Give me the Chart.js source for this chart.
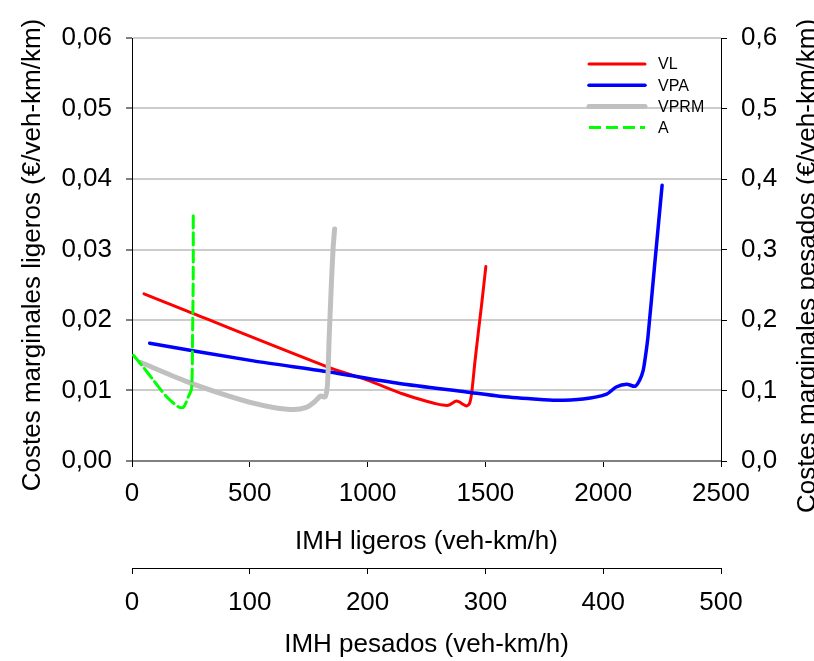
<!DOCTYPE html>
<html>
<head>
<meta charset="utf-8">
<script src="https://cdn.jsdelivr.net/npm/chart.js@4.4.1/dist/chart.umd.min.js"></script>
<style>
  html, body { margin: 0; padding: 0; background: #ffffff; }
  #c { display: block; }
</style>
</head>
<body>
<canvas id="c" width="814" height="661"></canvas>
<script>
// Light vehicles: IMH ligeros (veh-km/h) vs marginal cost (€/veh-km/km)
const vlX = [51, 253, 826, 996, 1151, 1222, 1293, 1342, 1378, 1420, 1433, 1442, 1455, 1469, 1484, 1502];
const vlY = [0.0237, 0.0210, 0.0134, 0.0115, 0.0095, 0.00875, 0.0081, 0.0079, 0.0085, 0.0078, 0.0082, 0.0097, 0.0139, 0.0180, 0.0222, 0.0276];

// Heavy vehicles: IMH pesados (veh-km/h) vs marginal cost (€/veh-km/km)
const vpaX = [15, 103, 165, 227, 284, 312, 341, 360, 383, 403, 411, 420, 427, 431, 434, 436, 438, 444, 450];
const vpaY = [0.167, 0.142, 0.127, 0.110, 0.098, 0.092, 0.088, 0.086, 0.088, 0.095, 0.105, 0.109, 0.106, 0.115, 0.129, 0.150, 0.176, 0.284, 0.391];

const vprmX = [7, 46, 75, 103, 120, 137, 148, 155, 160, 164, 166, 167.4, 169.4, 170.8, 172];
const vprmY = [0.140, 0.113, 0.096, 0.082, 0.076, 0.073, 0.076, 0.084, 0.092, 0.091, 0.110, 0.176, 0.257, 0.304, 0.329];

const aX = [1.2, 8.2, 18, 29.4, 39.2, 43.6, 47.8, 50.6, 51.4, 52, 52];
const aY = [0.150, 0.136, 0.115, 0.091, 0.077, 0.076, 0.091, 0.103, 0.176, 0.271, 0.351];

// Axis ranges and titles
const xLigMax = 2500, xLigStep = 500;
const xPesMax = 500, xPesStep = 100;
const yLigMax = 0.06, yLigStep = 0.01;
const yPesMax = 0.6, yPesStep = 0.1;
const titleXLig = 'IMH ligeros (veh-km/h)';
const titleXPes = 'IMH pesados (veh-km/h)';
const titleYLig = 'Costes marginales ligeros (€/veh-km/km)';
const titleYPes = 'Costes marginales pesados (€/veh-km/km)';

const FAMILY = '"Liberation Sans", Arial, Helvetica, sans-serif';
const pts = (xs, ys) => xs.map((x, i) => ({ x: x, y: ys[i] }));

// Axis titles drawn rotated on both sides, and the titles under both x axes
const axisTitles = {
  id: 'axisTitles',
  afterDraw(chart) {
    const ctx = chart.ctx;
    const area = chart.chartArea;
    const cx = (area.left + area.right) / 2;
    ctx.save();
    ctx.fillStyle = '#000';
    ctx.font = '26px ' + FAMILY;
    ctx.textAlign = 'center';
    ctx.textBaseline = 'alphabetic';
    ctx.fillText(titleXLig, cx, 549);
    ctx.fillText(titleXPes, cx, 652);
    ctx.textBaseline = 'middle';
    ctx.save();
    ctx.translate(33, 255);
    ctx.rotate(-Math.PI / 2);
    ctx.fillText(titleYLig, 0, 0);
    ctx.restore();
    ctx.save();
    ctx.translate(808, 266);
    ctx.rotate(-Math.PI / 2);
    ctx.fillText(titleYPes, 0, 0);
    ctx.restore();
    ctx.restore();
  }
};

// Legend in the upper right corner of the plot
const innerLegend = {
  id: 'innerLegend',
  afterDatasetsDraw(chart) {
    const ctx = chart.ctx;
    ctx.save();
    chart.data.datasets.forEach((ds, i) => {
      const y = 64 + i * 21.2;
      ctx.beginPath();
      ctx.strokeStyle = ds.borderColor;
      ctx.lineWidth = ds.borderWidth;
      ctx.lineCap = ds.borderDash && ds.borderDash.length ? 'butt' : 'round';
      ctx.setLineDash(ds.borderDash || []);
      ctx.moveTo(589, y);
      ctx.lineTo(645, y);
      ctx.stroke();
      ctx.setLineDash([]);
      ctx.fillStyle = '#000';
      ctx.font = '16px ' + FAMILY;
      ctx.textAlign = 'left';
      ctx.textBaseline = 'middle';
      ctx.fillText(ds.label, 658, y + 1);
    });
    ctx.restore();
  }
};

const tickFont = { family: FAMILY, size: 26 };

new Chart(document.getElementById('c'), {
  type: 'line',
  data: {
    datasets: [
      { label: 'VL', data: pts(vlX, vlY), xAxisID: 'x', yAxisID: 'y',
        borderColor: '#ff0000', borderWidth: 3, order: 4 },
      { label: 'VPA', data: pts(vpaX, vpaY), xAxisID: 'x2', yAxisID: 'y2',
        borderColor: '#0000ff', borderWidth: 3.5, order: 3 },
      { label: 'VPRM', data: pts(vprmX, vprmY), xAxisID: 'x2', yAxisID: 'y2',
        borderColor: '#c0c0c0', borderWidth: 5, order: 2 },
      { label: 'A', data: pts(aX, aY), xAxisID: 'x2', yAxisID: 'y2',
        borderColor: '#00ff00', borderWidth: 3, borderDash: [12, 5], order: 1 }
    ]
  },
  options: {
    responsive: false,
    animation: false,
    devicePixelRatio: 1,
    layout: { padding: { top: 38, left: 0, right: 0, bottom: 0 } },
    elements: {
      point: { radius: 0, hoverRadius: 0 },
      line: { tension: 0.25, fill: false, borderCapStyle: 'round', borderJoinStyle: 'round' }
    },
    plugins: {
      legend: { display: false },
      tooltip: { enabled: false },
      title: { display: false }
    },
    scales: {
      x: {
        type: 'linear', position: 'bottom', weight: 0,
        min: 0, max: xLigMax,
        ticks: { stepSize: xLigStep, font: tickFont, color: '#000', padding: 11, maxRotation: 0,
                 callback: v => String(v) },
        grid: { drawOnChartArea: false, tickLength: 6, tickColor: '#000', tickWidth: 1 },
        border: { color: '#808080', width: 2 },
        afterFit: s => { s.height = 107; }
      },
      x2: {
        type: 'linear', position: 'bottom', weight: 1,
        min: 0, max: xPesMax,
        ticks: { stepSize: xPesStep, font: tickFont, color: '#000', padding: 13, maxRotation: 0,
                 callback: v => String(v) },
        grid: { drawOnChartArea: false, tickLength: 6, tickColor: '#000', tickWidth: 1 },
        border: { color: '#000', width: 1 },
        afterFit: s => { s.height = 93; }
      },
      y: {
        type: 'linear', position: 'left',
        min: 0, max: yLigMax,
        ticks: { stepSize: yLigStep, font: tickFont, color: '#000', padding: 14,
                 callback: v => v.toFixed(2).replace('.', ',') },
        grid: { color: '#cccccc', lineWidth: 2, tickLength: 6, tickColor: '#000', tickWidth: 1 },
        border: { color: '#000', width: 1 },
        afterFit: s => { s.width = 132; }
      },
      y2: {
        type: 'linear', position: 'right',
        min: 0, max: yPesMax,
        ticks: { stepSize: yPesStep, font: tickFont, color: '#000', padding: 14,
                 callback: v => v.toFixed(1).replace('.', ',') },
        grid: { drawOnChartArea: false, tickLength: 6, tickColor: '#000', tickWidth: 1 },
        border: { color: '#000', width: 1 },
        afterFit: s => { s.width = 93; }
      }
    }
  },
  plugins: [axisTitles, innerLegend]
});
</script>
</body>
</html>
